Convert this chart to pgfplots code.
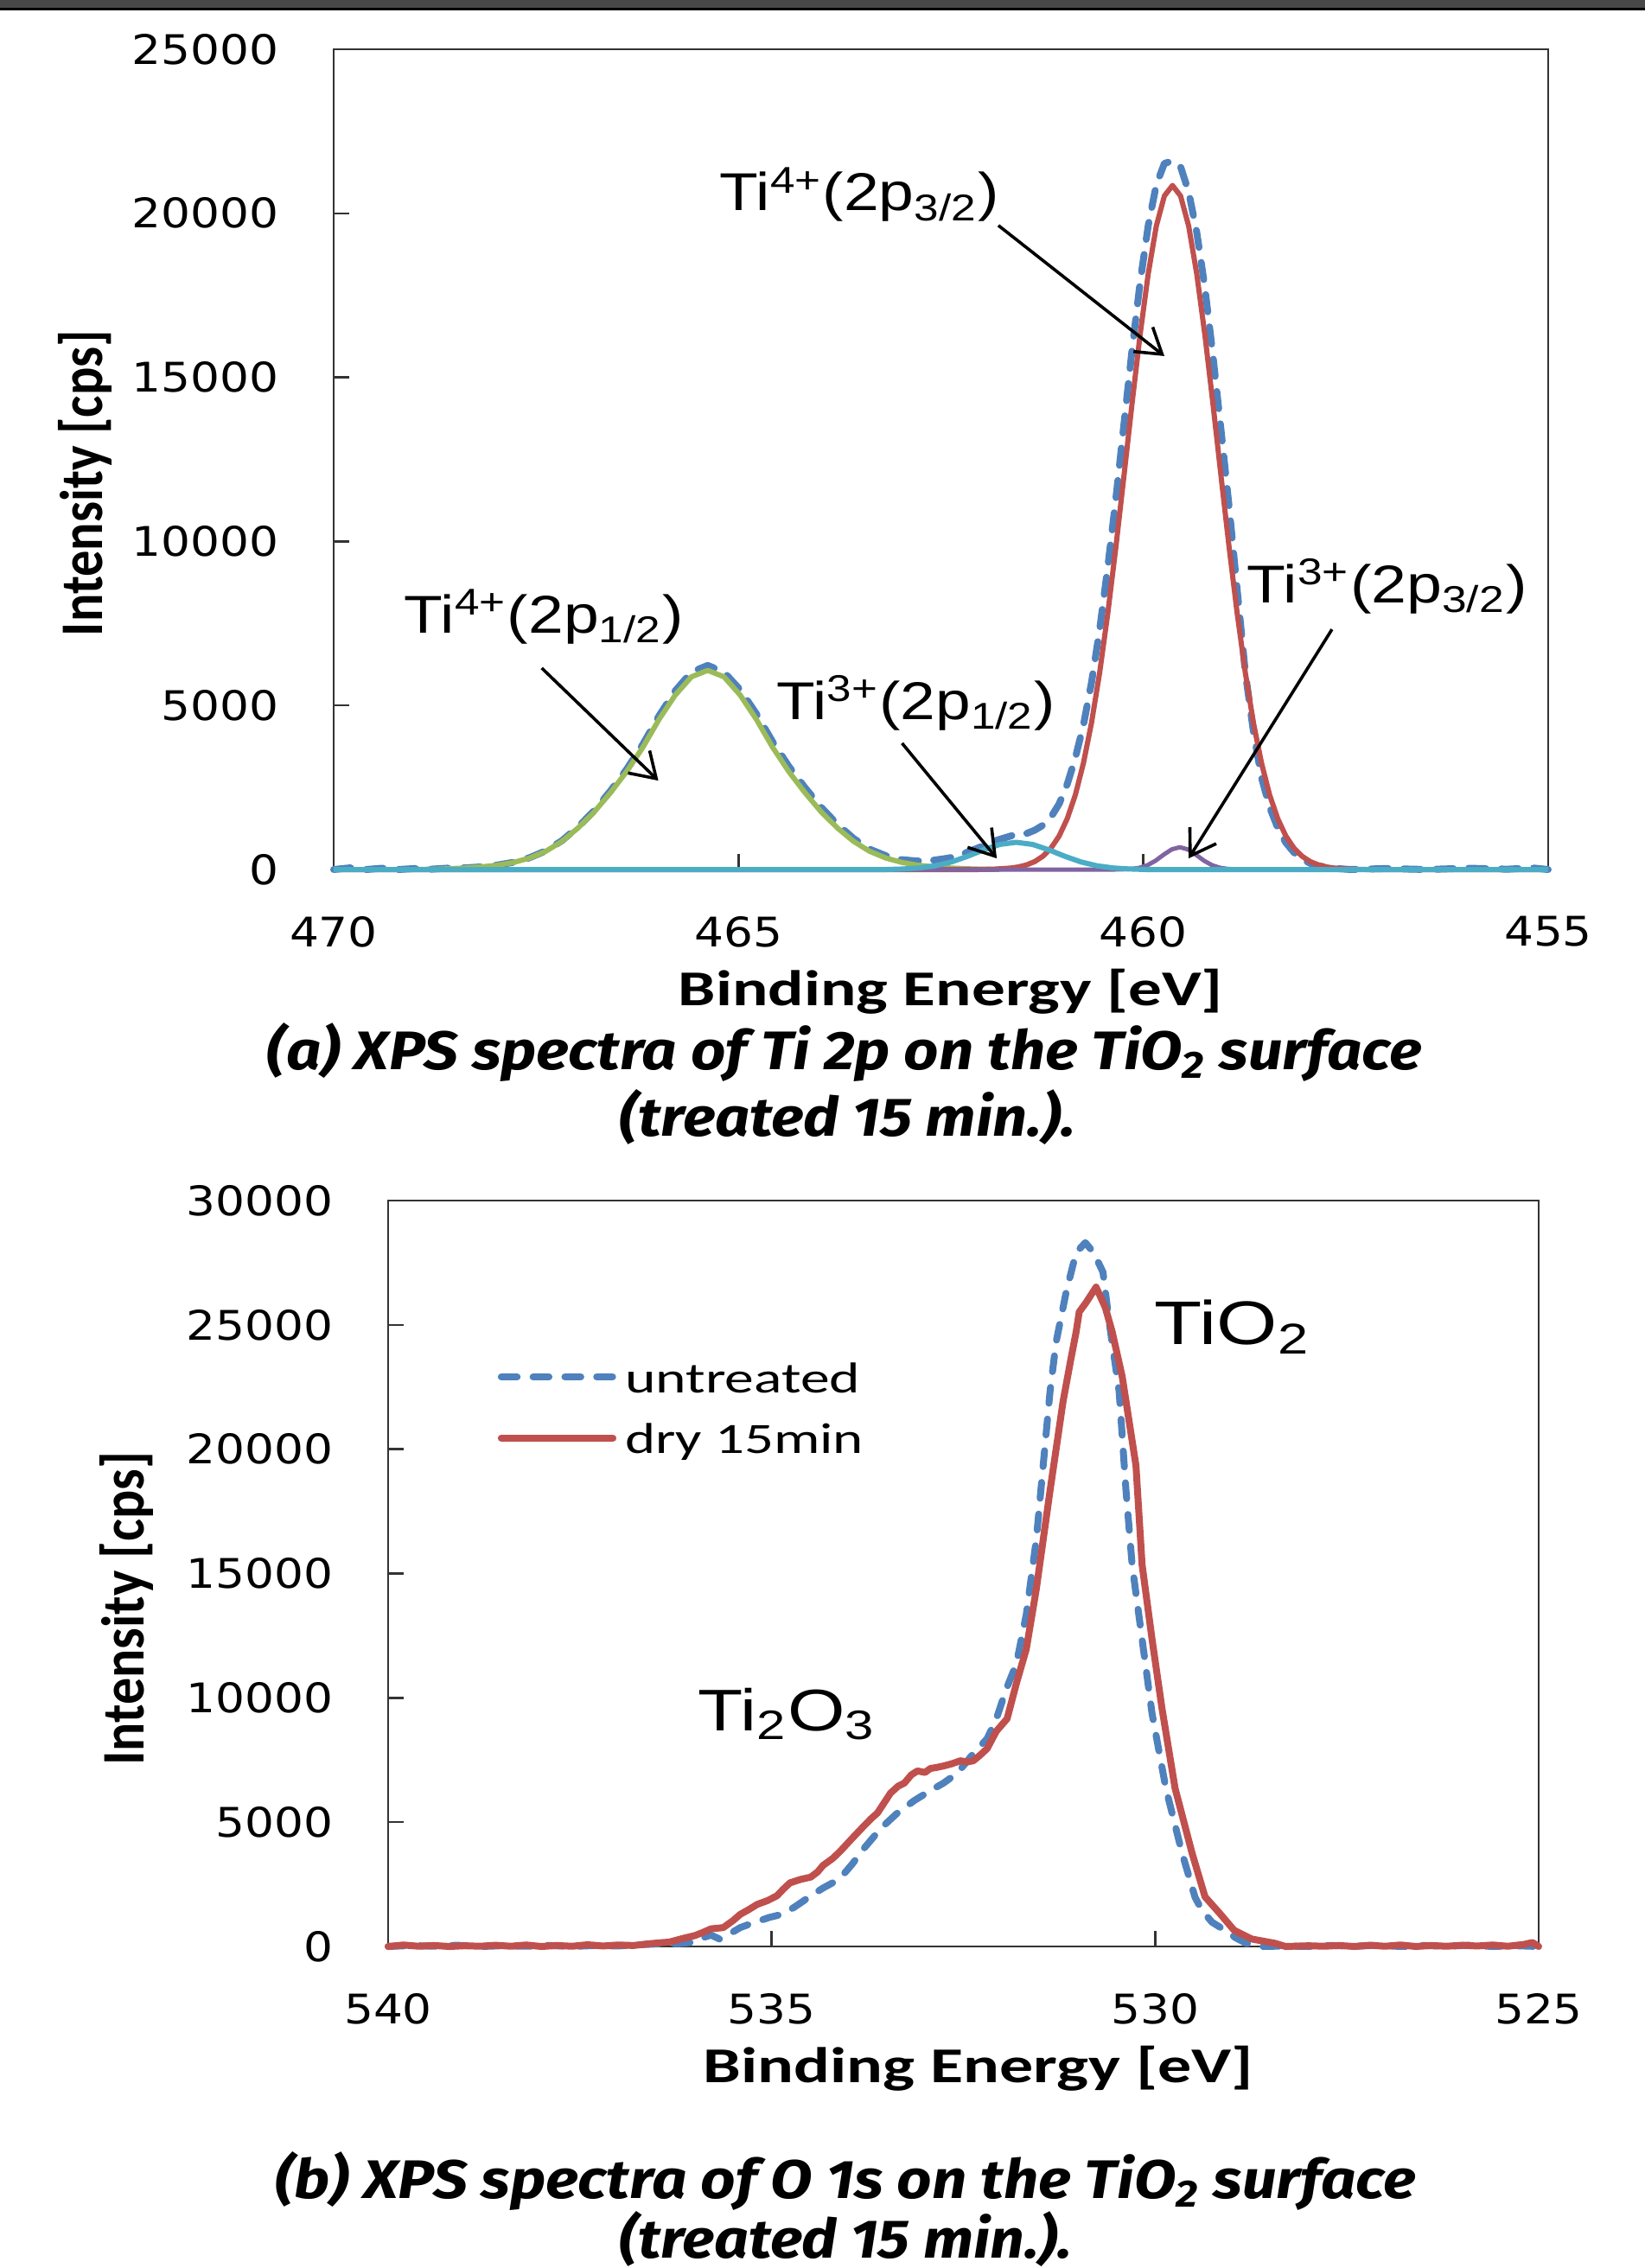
\documentclass[border=0pt]{standalone}
\usepackage{fontspec}
\setmainfont{Liberation Sans}
\newfontfamily\tickfont{DejaVu Sans}
\newfontfamily\calfont{Carlito}
\newfontfamily\capfont{Fira Sans}
\usepackage{graphicx}
\usepackage{pgfplots}
\pgfplotsset{compat=1.18}
\usetikzlibrary{arrows.meta}
\definecolor{xblue}{HTML}{4F81BD}
\definecolor{xred}{HTML}{C0504D}
\definecolor{xgreen}{HTML}{9BBB59}
\definecolor{xcyan}{HTML}{4BACC6}
\definecolor{xpurple}{HTML}{8064A2}
\definecolor{topgray}{HTML}{484848}

\pgfplotsset{xps/.style={scale only axis, clip=false, x dir=reverse,
  axis line style={black!80,line width=0.6pt},
  tick align=inside, xtick pos=bottom, ytick pos=left, major tick length=4.5pt,
  tick style={black!80,line width=0.6pt},
  scaled ticks=false,
  tick label style={font=\tickfont\fontsize{11.8}{13}\selectfont},
  /pgf/number format/1000 sep={}, /pgf/number format/assume math mode=true,
  xticklabel={\scalebox{1.13}[1]{\pgfmathprintnumber{\tick}}},
  yticklabel={\scalebox{1.13}[1]{\pgfmathprintnumber{\tick}}},
  xticklabel style={anchor=center, inner sep=0pt, yshift=-18pt},
  yticklabel style={anchor=east, inner sep=0pt, xshift=-15.75pt},
  xlabel style={anchor=base, inner sep=0pt},
  ylabel style={anchor=north, inner sep=0pt}}}

\tikzset{arr/.style={black, line width=0.9pt, -{Straight Barb[length=7pt,width=9pt]}}}
\newcommand{\ann}[3]{\resizebox{#1}{\height}{\fontsize{#2}{#2}\selectfont #3}}

\begin{document}
\begin{tikzpicture}
\path[use as bounding box] (0,0) rectangle (475.75pt,-656pt);
\fill[topgray] (0,0) rectangle (475.75pt,-2.3pt);
\fill[black] (0,-2.3pt) rectangle (475.75pt,-2.9pt);

% (a) Ti 2p
\begin{axis}[xps, at={(96.5pt,-14.25pt)}, anchor=north west, width=351.25pt, height=237.25pt,
  xmin=455, xmax=470, ymin=0, ymax=25000, xtick={455,460,465,470}, ytick={0,5000,...,25000},
  xlabel={\resizebox{157.5pt}{\height}{\calfont\bfseries\fontsize{14.5}{16}\selectfont Binding Energy [eV]}},
  xlabel style={at={([yshift=-39.25pt]axis cs:462.378,0)}},
  ylabel={\resizebox{88.5pt}{1.25\height}{\calfont\bfseries\fontsize{14}{16}\selectfont Intensity [cps]}},
  ylabel style={at={([xshift=-79.75pt]axis cs:470,11775)}}]
\addplot[xblue, line width=2pt, dash pattern=on 5pt off 4.4pt, line cap=round, line join=round] coordinates {
(470,0)(469.8,50)(469.6,0)(469.4,40)(469.2,0)(469.0,30)(468.8,10)(468.6,40)(468.38,50)(468.18,80)
(467.98,135)(467.78,220)(467.58,360)(467.38,570)(467.18,880)(466.98,1300)(466.78,1800)(466.58,2400)
(466.38,3060)(466.18,3820)(465.98,4690)(465.78,5450)(465.58,6020)(465.38,6220)(465.18,6020)(464.98,5480)
(464.78,4750)(464.58,3900)(464.38,3150)(464.18,2500)(463.98,1900)(463.78,1380)(463.58,950)(463.38,620)
(463.18,420)(462.98,300)(462.8,260)(462.6,280)(462.4,350)(462.2,500)(462.0,700)(461.8,900)(461.6,1050)
(461.44,1100)(461.34,1200)(461.24,1350)(461.14,1600)(461.04,2000)(460.94,2600)(460.84,3400)(460.74,4400)
(460.64,5700)(460.54,7300)(460.44,9200)(460.34,11280)(460.24,13560)(460.14,15820)(460.04,17890)
(459.94,19620)(459.84,20870)(459.74,21520)(459.64,21600)(459.54,21420)(459.44,20650)(459.34,19420)
(459.24,17740)(459.14,15650)(459.04,13380)(458.94,11040)(458.84,8500)(458.74,6000)(458.64,4200)
(458.54,2800)(458.44,1900)(458.34,1270)(458.24,820)(458.14,520)(458.04,320)(457.94,190)(457.84,110)
(457.64,35)(457.44,0)(457.0,30)(456.5,0)(456.0,40)(455.5,10)(455.2,50)(455.0,0)};
\addplot[xgreen, line width=1.5pt, line join=round] coordinates {
(469,0)(468.68,15)(468.38,45)(468.18,80)(467.98,130)(467.78,215)(467.58,350)(467.38,555)(467.18,860)
(466.98,1270)(466.78,1760)(466.58,2345)(466.38,2990)(466.18,3730)(465.98,4580)(465.78,5320)(465.58,5875)
(465.38,6070)(465.18,5875)(464.98,5320)(464.78,4580)(464.58,3730)(464.38,2990)(464.18,2345)(463.98,1760)
(463.78,1270)(463.58,860)(463.38,555)(463.18,350)(462.98,215)(462.78,130)(462.58,80)(462.38,45)
(462.08,15)(461.78,0)};
\addplot[xred, line width=1.5pt, line join=round] coordinates {
(470,0)(462.04,0)(461.84,12)(461.64,44)(461.54,80)(461.44,142)(461.34,244)(461.24,406)(461.14,654)
(461.04,1020)(460.94,1550)(460.84,2270)(460.74,3240)(460.64,4470)(460.54,5990)(460.44,7790)(460.34,9810)
(460.24,11980)(460.14,14190)(460.04,16300)(459.94,18150)(459.84,19610)(459.74,20530)(459.64,20850)
(459.54,20530)(459.44,19610)(459.34,18150)(459.24,16300)(459.14,14190)(459.04,11980)(458.94,9810)
(458.84,7790)(458.74,5990)(458.64,4470)(458.54,3240)(458.44,2270)(458.34,1550)(458.24,1020)(458.14,654)
(458.04,406)(457.94,244)(457.84,142)(457.74,80)(457.64,44)(457.44,12)(457.24,0)(455,0)};
\addplot[xpurple, line width=1.25pt, line join=round] coordinates {
(463,0)(460.35,0)(460.25,6)(460.15,17)(460.05,51)(459.95,130)(459.85,268)(459.75,450)(459.65,613)
(459.55,680)(459.45,613)(459.35,450)(459.25,268)(459.15,130)(459.05,51)(458.95,17)(458.85,6)(458.75,0)(457.5,0)};
\addplot[xcyan, line width=1.5pt, line join=round] coordinates {
(470,0)(463.17,0)(462.97,16)(462.77,47)(462.57,112)(462.37,231)(462.17,404)(461.97,603)(461.77,766)
(461.57,830)(461.37,766)(461.17,603)(460.97,404)(460.77,231)(460.57,112)(460.37,47)(460.17,16)(459.97,0)(455,0)};

\node[anchor=base west,inner sep=0pt] at (axis cs:465.239,20074) {\ann{80.75pt}{15.4}{Ti\textsuperscript{4+}(2p\textsubscript{3/2})}};
\node[anchor=base west,inner sep=0pt] at (axis cs:469.135,7218) {\ann{80.75pt}{15.4}{Ti\textsuperscript{4+}(2p\textsubscript{1/2})}};
\node[anchor=base west,inner sep=0pt] at (axis cs:464.534,4584) {\ann{80.5pt}{15.4}{Ti\textsuperscript{3+}(2p\textsubscript{1/2})}};
\node[anchor=base west,inner sep=0pt] at (axis cs:458.727,8140) {\ann{81pt}{15.4}{Ti\textsuperscript{3+}(2p\textsubscript{3/2})}};
\draw[arr] (axis cs:461.79,19630) -- (axis cs:459.74,15650);
\draw[arr] (axis cs:467.43,6140) -- (axis cs:465.99,2710);
\draw[arr] (axis cs:462.98,3850) -- (axis cs:461.81,340);
\draw[arr] (axis cs:457.67,7320) -- (axis cs:459.44,340);
\end{axis}

% (b) O 1s
\begin{axis}[xps, at={(112.25pt,-347.25pt)}, anchor=north west, width=332.75pt, height=215.75pt,
  xmin=525, xmax=540, ymin=0, ymax=30000, xtick={525,530,535,540}, ytick={0,5000,...,30000},
  xlabel={\resizebox{159pt}{\height}{\calfont\bfseries\fontsize{14.5}{16}\selectfont Binding Energy [eV]}},
  xlabel style={at={([yshift=-39.25pt]axis cs:532.303,0)}},
  ylabel={\resizebox{90.75pt}{1.25\height}{\calfont\bfseries\fontsize{14}{16}\selectfont Intensity [cps]}},
  ylabel style={at={([xshift=-83.5pt]axis cs:540,13590)}},
  legend style={draw=none, fill=none, inner sep=0pt, outer sep=0pt, at={(axis cs:538.57,23490)},
    anchor=north west, row sep=7.5pt, column sep=2.5pt, nodes={inner sep=0pt},
    font=\calfont\fontsize{12.5}{13}\selectfont},
  legend cell align=left,
  legend image code/.code={\draw[#1] (0pt,0.9pt) -- (32.3pt,0.9pt);}]
\addplot[xblue, line width=2pt, dash pattern=on 4.6pt off 4.6pt, line cap=round, line join=round] coordinates {
(540,0)(539.7,40)(539.4,10)(539.1,50)(538.8,0)(538.5,30)(538.2,10)(537.9,40)(537.6,0)(537.3,40)(537.0,20)
(536.8,60)(536.5,100)(536.2,120)(536.0,180)(535.9,350)(535.79,460)(535.68,300)(535.55,500)(535.41,760)
(535.25,940)(535.03,1170)(534.87,1290)(534.71,1570)(534.6,1800)(534.49,2040)(534.33,2350)(534.17,2620)
(534.05,2950)(533.95,3310)(533.79,3970)(533.57,4770)(533.36,5370)(533.14,5870)(532.93,6270)(532.76,6570)
(532.58,6970)(532.37,7760)(532.19,8360)(532.07,9160)(531.94,10360)(531.81,11360)(531.68,13350)
(531.55,16350)(531.46,19340)(531.37,22330)(531.29,24330)(531.16,26320)(531.03,27910)(530.91,28310)
(530.8,27900)(530.68,27120)(530.6,25130)(530.47,22330)(530.38,18340)(530.3,15350)(530.17,12350)
(530.04,9360)(529.86,6360)(529.65,3770)(529.48,1980)(529.39,1460)(529.26,980)(529.12,710)(528.95,350)
(528.82,140)(528.59,0)(528.3,20)(528.0,0)(527.7,40)(527.4,10)(527.1,50)(526.8,0)(526.5,40)(526.2,10)
(525.9,50)(525.6,0)(525.3,30)(525.0,0)};
\addlegendentry{\resizebox{68pt}{\height}{untreated}}
\addplot[xred, line width=2pt, line join=round, line cap=round] coordinates {
(540,0)(539.8,60)(539.6,10)(539.4,40)(539.2,0)(539.0,30)(538.8,10)(538.6,50)(538.4,10)(538.2,60)(538.0,0)
(537.8,40)(537.6,10)(537.4,70)(537.2,20)(537.0,60)(536.8,40)(536.6,110)(536.45,150)(536.33,180)(536.15,330)
(536.0,440)(535.9,560)(535.79,710)(535.63,760)(535.5,1050)(535.41,1290)(535.3,1480)(535.19,1690)
(535.05,1850)(534.93,2040)(534.85,2300)(534.76,2560)(534.62,2700)(534.49,2790)(534.4,3000)(534.33,3260)
(534.2,3550)(534.1,3850)(533.95,4350)(533.79,4870)(533.7,5150)(533.62,5370)(533.45,6170)(533.35,6450)
(533.27,6570)(533.18,6900)(533.1,7060)(533.0,7000)(532.93,7160)(532.85,7200)(532.76,7260)(532.65,7350)
(532.54,7470)(532.45,7420)(532.37,7470)(532.28,7700)(532.19,7960)(532.07,8660)(531.93,9160)(531.81,10570)
(531.68,11960)(531.55,14360)(531.37,18340)(531.2,21930)(531.1,23600)(531.03,24720)(530.99,25520)
(530.9,25900)(530.77,26520)(530.65,25700)(530.56,24720)(530.43,22930)(530.25,19340)(530.17,15350)
(530.04,12350)(529.91,9560)(529.74,6360)(529.52,3770)(529.35,2000)(529.16,1340)(528.97,650)(528.74,300)
(528.44,130)(528.3,0)(528.0,30)(527.8,10)(527.6,40)(527.4,0)(527.2,50)(527.0,10)(526.8,60)(526.6,0)
(526.4,40)(526.2,10)(526.0,50)(525.8,20)(525.6,60)(525.4,10)(525.2,80)(525.08,160)(525.0,0)};
\addlegendentry{\resizebox{69pt}{\height}{dry 15min}}

\node[anchor=base west,inner sep=0pt] at (axis cs:530.015,24229) {\ann{45pt}{17.8}{TiO\textsubscript{2}}};
\node[anchor=base west,inner sep=0pt] at (axis cs:535.966,8691) {\ann{51.5pt}{17}{Ti\textsubscript{2}O\textsubscript{3}}};
\end{axis}

% captions
\node[anchor=base,inner sep=0pt] at (244.25pt,-309.25pt) {\resizebox{334pt}{\height}{\capfont\bfseries\itshape\fontsize{15.7}{18}\selectfont (a) XPS spectra of Ti 2p on the TiO\textsubscript{2} surface}};
\node[anchor=base,inner sep=0pt] at (245.1pt,-328.5pt) {\resizebox{132pt}{\height}{\capfont\bfseries\itshape\fontsize{15.7}{18}\selectfont (treated 15 min.).}};
\node[anchor=base,inner sep=0pt] at (244.6pt,-635.75pt) {\resizebox{330pt}{\height}{\capfont\bfseries\itshape\fontsize{15.7}{18}\selectfont (b) XPS spectra of O 1s on the TiO\textsubscript{2} surface}};
\node[anchor=base,inner sep=0pt] at (244.6pt,-653pt) {\resizebox{131pt}{\height}{\capfont\bfseries\itshape\fontsize{15.7}{18}\selectfont (treated 15 min.).}};
\end{tikzpicture}
\end{document}
